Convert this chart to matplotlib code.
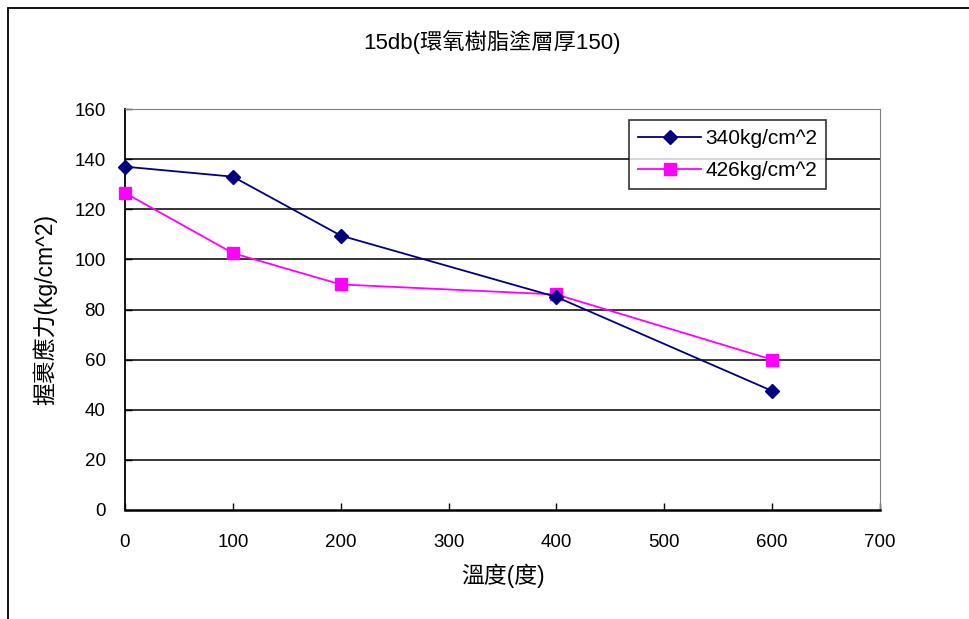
import matplotlib
matplotlib.use("Agg")
import matplotlib.pyplot as plt
from matplotlib.patches import Rectangle

FONT = ["Liberation Sans", "Noto Sans CJK TC", "DejaVu Sans"]
plt.rcParams["font.family"] = FONT

# temperature (deg) vs bond stress
temps = [0, 100, 200, 400, 600]
s340 = [137, 133, 109.5, 85, 47.5]
s426 = [126.5, 102.5, 90, 86, 60]
labels = ["340kg/cm^2", "426kg/cm^2"]

fig = plt.figure(figsize=(9.7, 6.19), dpi=100)
fig.patch.set_facecolor("white")

# outer chart frame
fig.patches.append(Rectangle((8 / 970, -0.05), 1.2, 1 - 8 / 619 + 0.05, transform=fig.transFigure,
                             fill=False, ec="black", lw=1.3, zorder=0))

ax = fig.add_axes([125 / 970, 109 / 619, 755 / 970, 401 / 619])
ax.plot(temps, s340, color="#000080", lw=1.3, marker="D", ms=7.5, mfc="#000080", mec="#000080",
        label=labels[0], zorder=4, clip_on=False)
ax.plot(temps, s426, color="#FF00FF", lw=1.3, marker="s", ms=8, mfc="#FF00FF", mec="#FF00FF",
        label=labels[1], zorder=3, clip_on=False)

ax.set_xlim(0, 700)
ax.set_ylim(0, 160)
ax.set_xticks(range(0, 701, 100))
ax.set_yticks(range(0, 161, 20))
for y in range(20, 160, 20):
    ax.axhline(y, color="black", lw=1.1, zorder=1)
ax.tick_params(axis="both", direction="in", length=5, width=1, labelsize=13.5, color="black")
ax.tick_params(axis="x", pad=17)
ax.tick_params(axis="y", pad=14)
ax.spines["top"].set_color("#808080")
ax.spines["right"].set_color("#808080")
ax.spines["left"].set_linewidth(1.3)
ax.spines["bottom"].set_linewidth(1.8)

ax.set_xlabel("溫度(度)", fontsize=16.5, labelpad=9)
ax.set_ylabel("握裹應力(kg/cm^2)", fontsize=16.5, labelpad=12)
fig.text(492 / 970, 1 - 42 / 619, "15db(環氧樹脂塗層厚150)", fontsize=16, ha="center", va="center")

leg = ax.legend(loc="upper left", bbox_to_anchor=(504 / 755, 1 - 11 / 401), fontsize=15,
                frameon=True, fancybox=False, edgecolor="black", handlelength=3.0,
                borderpad=0.45, labelspacing=0.6, handletextpad=0.2, borderaxespad=0)
leg.get_frame().set_linewidth(1.2)

fig.savefig("out.png", dpi=100, facecolor="white")
